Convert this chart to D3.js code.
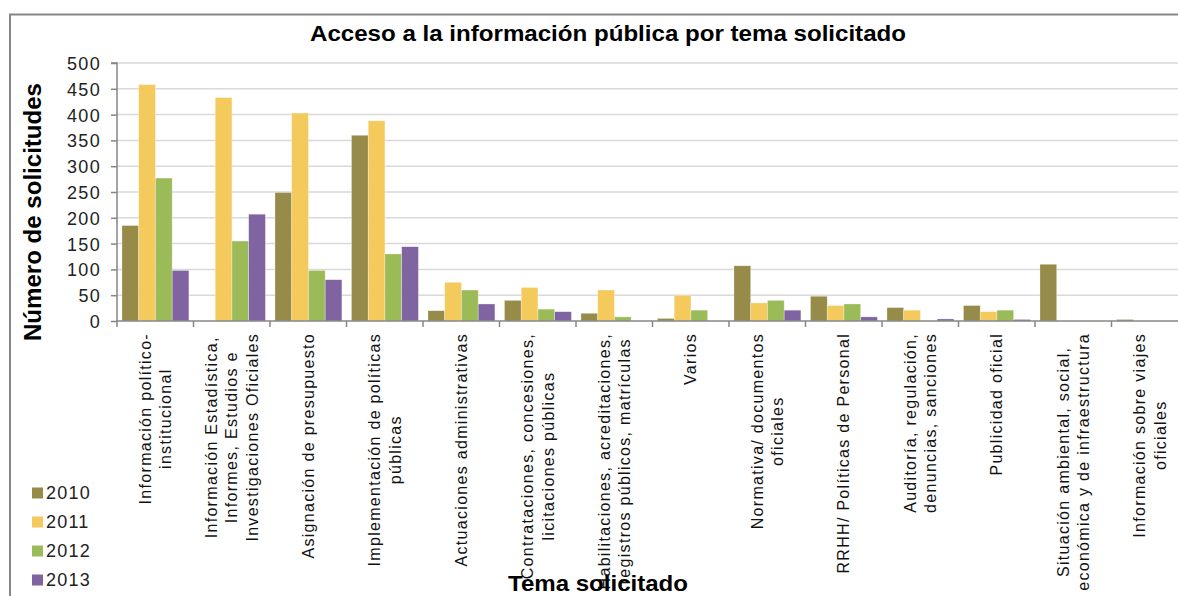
<!DOCTYPE html>
<html>
<head>
<meta charset="utf-8">
<script src="https://cdn.jsdelivr.net/npm/d3@7"></script>
<style>
  body { margin: 0; background: #fff; }
  text { font-family: "Liberation Sans", Arial, sans-serif; }
</style>
</head>
<body>
<div id="canvas"></div>
<script>
const categories = [
    ["Información político-", "institucional"],
    ["Información Estadística,", "Informes, Estudios e", "Investigaciones Oficiales"],
    ["Asignación de presupuesto"],
    ["Implementación de políticas", "públicas"],
    ["Actuaciones administrativas"],
    ["Contrataciones, concesiones,", "licitaciones públicas"],
    ["Habilitaciones, acreditaciones,", "registros públicos, matrículas"],
    ["Varios"],
    ["Normativa/ documentos", "oficiales"],
    ["RRHH/ Políticas de Personal"],
    ["Auditoría, regulación,", "denuncias, sanciones"],
    ["Publicidad oficial"],
    ["Situación ambiental, social,", "económica y de infraestructura"],
    ["Información sobre viajes", "oficiales"]
]
const years = ["2010", "2011", "2012", "2013"]
const v2010 = [185, 0, 249, 360, 20, 40, 15, 5, 107, 48, 26, 30, 110, 3]
const v2011 = [458, 433, 403, 388, 75, 65, 60, 50, 35, 30, 21, 18, 0, 0]
const v2012 = [277, 155, 98, 130, 60, 23, 8, 21, 40, 33, 0, 21, 0, 0]
const v2013 = [98, 207, 80, 144, 33, 18, 0, 0, 21, 8, 4, 3, 0, 0]
const yTicks = [0, 50, 100, 150, 200, 250, 300, 350, 400, 450, 500]
const colors = ["#968B48", "#F4CA5C", "#9BBB59", "#8064A2"]

const series = [v2010, v2011, v2012, v2013]
const data = categories.map((c, i) => ({
    key: i,
    lines: c,
    values: years.map((y, j) => ({year: y, value: series[j][i]}))
}))

const width = 1178
const height = 596
const margin = {top: 63, left: 117, bottom: 275, right: -10}
const iwidth = width - margin.left - margin.right
const iheight = height - margin.top - margin.bottom

const svg = d3.select("#canvas").append("svg")
    .attr("width", width)
    .attr("height", height)

// chart frame (cropped on the right and bottom)
svg.append("rect")
    .attr("x", 10).attr("y", 14.5)
    .attr("width", width + 20).attr("height", height + 20)
    .attr("fill", "none")
    .attr("stroke", "#868686")
    .attr("stroke-width", 2)

const g = svg.append("g").attr("transform", `translate(${margin.left},${margin.top})`)

const x0 = d3.scaleBand()
    .domain(data.map(d => d.key))
    .range([0, iwidth])
    .padding(0)

const x1 = d3.scaleBand()
    .domain(years)
    .range([x0.bandwidth() * 0.065, x0.bandwidth() * 0.94])

const y = d3.scaleLinear()
    .domain([0, 500])
    .range([iheight, 0])

// gridlines
g.append("g")
    .selectAll("line")
    .data(yTicks.filter(t => t > 0))
    .enter().append("line")
    .attr("x1", 0).attr("x2", width)
    .attr("y1", d => y(d)).attr("y2", d => y(d))
    .attr("stroke", "#D9D9D9")
    .attr("stroke-width", 1.5)

// bars
const groups = g.selectAll(".grp").data(data)
    .enter().append("g")
    .attr("class", "grp")
    .attr("transform", d => `translate(${x0(d.key)},0)`)

groups.selectAll("rect")
    .data(d => d.values)
    .enter().append("rect")
    .attr("x", d => x1(d.year))
    .attr("y", d => y(d.value))
    .attr("width", x1.bandwidth())
    .attr("height", d => iheight - y(d.value))
    .attr("fill", (d, i) => colors[i])
    .attr("stroke", "#fff")
    .attr("stroke-opacity", 0.5)
    .attr("stroke-width", 0.6)

// y axis
const yAxis = g.append("g")
    .call(d3.axisLeft(y).tickValues(yTicks).tickSize(6).tickPadding(10))
yAxis.selectAll("line, path").attr("stroke", "#868686").attr("stroke-width", 1.5)
yAxis.select(".domain").attr("d", `M-6,${y(500)}H0V${iheight}`)
yAxis.selectAll("text")
    .attr("fill", "#222")
    .style("font-size", "18px")
    .style("letter-spacing", "1.3px")
    .attr("dy", "0.36em")

// x axis line and tick marks at band boundaries
const xAxis = g.append("g").attr("transform", `translate(0,${iheight})`)
xAxis.append("line")
    .attr("x1", 0).attr("x2", width)
    .attr("stroke", "#868686").attr("stroke-width", 1.5)
xAxis.selectAll(".tk")
    .data(data.map(d => d.key).concat([data.length]))
    .enter().append("line")
    .attr("x1", d => d < data.length ? x0(d) : iwidth)
    .attr("x2", d => d < data.length ? x0(d) : iwidth)
    .attr("y1", 0).attr("y2", 6)
    .attr("stroke", "#868686").attr("stroke-width", 1.5)

// rotated category labels
const lineH = 20.5
const labels = xAxis.selectAll(".lbl").data(data)
    .enter().append("g")
    .attr("class", "lbl")
    .attr("transform", d => `translate(${x0(d.key) + x0.bandwidth() / 2},12) rotate(-90)`)

labels.each(function(d) {
    const lg = d3.select(this)
    const n = d.lines.length
    const texts = d.lines.map((t, i) => lg.append("text")
        .text(t)
        .attr("y", (i - (n - 1) / 2) * lineH)
        .attr("dy", "0.35em")
        .attr("text-anchor", "middle")
        .attr("fill", "#111")
        .style("font-size", "16px")
        .style("letter-spacing", "1.3px"))
    const maxLen = d3.max(texts, t => t.node().getComputedTextLength())
    texts.forEach(t => t.attr("x", -maxLen / 2))
})

// title
svg.append("text")
    .attr("x", 608).attr("y", 41)
    .attr("text-anchor", "middle")
    .attr("textLength", 596)
    .attr("lengthAdjust", "spacingAndGlyphs")
    .style("font-size", "22px")
    .style("font-weight", "bold")
    .text("Acceso a la información pública por tema solicitado")

// y axis title
svg.append("text")
    .attr("transform", "translate(41,212) rotate(-90)")
    .attr("text-anchor", "middle")
    .attr("textLength", 258)
    .attr("lengthAdjust", "spacingAndGlyphs")
    .style("font-size", "23px")
    .style("font-weight", "bold")
    .text("Número de solicitudes")

// x axis title
svg.append("text")
    .attr("x", 598).attr("y", 591)
    .attr("text-anchor", "middle")
    .attr("textLength", 180)
    .attr("lengthAdjust", "spacingAndGlyphs")
    .style("font-size", "22px")
    .style("font-weight", "bold")
    .text("Tema solicitado")

// legend
const legend = svg.append("g").attr("transform", "translate(32,493)")
const items = legend.selectAll("g").data(years)
    .enter().append("g")
    .attr("transform", (d, i) => `translate(0,${i * 29})`)
items.append("rect")
    .attr("x", 0).attr("y", -5.5)
    .attr("width", 11).attr("height", 11)
    .attr("fill", (d, i) => colors[i])
items.append("text")
    .attr("x", 14)
    .attr("dy", "0.36em")
    .attr("fill", "#222")
    .style("font-size", "18px")
    .style("letter-spacing", "1.2px")
    .text(d => d)
</script>
</body>
</html>
